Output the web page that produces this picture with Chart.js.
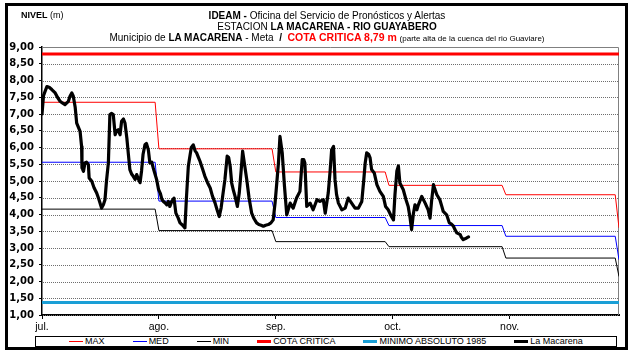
<!DOCTYPE html>
<html>
<head>
<meta charset="utf-8">
<script src="https://cdn.jsdelivr.net/npm/chart.js@4/dist/chart.umd.min.js"></script>
<style>
  html, body { margin: 0; padding: 0; background: #fff; }
  #wrap { position: relative; width: 630px; height: 350px; overflow: hidden;
          font-family: "Liberation Sans", Arial, sans-serif; color: #000; }
  #chart { position: absolute; left: 0; top: 0; }
  #frame { position: absolute; left: 5px; top: 3px; width: 623px; height: 347px;
           border: 3px solid #000; box-sizing: border-box; pointer-events: none; }
  .t { position: absolute; left: 0; width: 654px; text-align: center; white-space: nowrap;
       font-size: 10px; line-height: 11px; }
  #unit { position: absolute; left: 21px; top: 10px; font-size: 9px; line-height: 10px; }
  #legend { position: absolute; left: 35px; top: 336px; width: 582px; height: 11px;
            border: 1px solid #000; box-sizing: border-box; display: flex;
            justify-content: center; align-items: center; gap: 28px;
            font-size: 9px; line-height: 9px; background: #fff; }
  .item { display: flex; align-items: center; white-space: nowrap; }
  .swatch { display: inline-block; width: 14px; margin-right: 2px; }
</style>
</head>
<body>
<div id="wrap">
  <canvas id="chart" width="630" height="350"></canvas>
  <div id="unit"><b>NIVEL</b> (m)</div>
  <div class="t" style="top:10px"><b>IDEAM - </b>Oficina del Servicio de Pronósticos y Alertas</div>
  <div class="t" style="top:21px">ESTACION <b>LA MACARENA - RIO GUAYABERO</b></div>
  <div class="t" style="top:32px">Municipio de <b>LA MACARENA</b> - Meta &nbsp;<b>/</b> &nbsp;<b style="color:#ff0000;font-size:10.5px">COTA CRITICA 8,79 m</b> <span style="font-size:8px">(parte alta de la cuenca del rio Guaviare)</span></div>
  <div id="legend"></div>
  <div id="frame"></div>
</div>
<script>
// Month axis: days counted from 1 July; labels sit every 31 days.
const monthLabels = ['jul.', 'ago.', 'sep.', 'oct.', 'nov.'];
const monthTickDays = [0, 31, 62, 93, 124];
// First day of each month (jul .. dic) in the same day count.
const monthStartDays = [0, 31, 62, 92, 123, 153];

// Historical monthly levels (m), jul .. dic
const maxLevels = [7.35, 5.96, 5.27, 4.87, 4.59, 3.60];
const medLevels = [5.56, 4.40, 3.91, 3.67, 3.35, 2.65];
const minLevels = [4.16, 3.52, 3.19, 3.04, 2.70, 2.15];

// Reference levels (m)
const cotaCritica = 8.79;
const minimoAbsoluto1985 = 1.37;

// Observed level at La Macarena
const macarenaDays = [
  0, 0.4, 1.3, 1.9, 2.6, 3.5, 4.1, 4.8, 5.4, 6.1, 7.0, 7.4, 7.9, 8.3, 8.8, 9.2,
  10.1, 10.5, 10.6, 11.0, 11.4, 11.8, 12.3, 12.5, 13.2, 13.8, 14.5, 15.1, 15.8,
  16.3, 16.7, 17.1, 17.6, 18.0, 18.4, 18.9, 19.4, 19.8, 20.2, 20.7, 21.1, 21.6,
  22.0, 22.5, 22.9, 23.3, 23.8, 24.2, 24.7, 25.1, 25.6, 26.0, 26.4, 26.8, 27.3,
  27.7, 28.2, 28.6, 29.1, 29.5, 30.4, 30.9, 31.4, 31.8, 32.2, 32.6, 33.1, 33.5,
  33.9, 34.4, 35.0, 35.5, 36.1, 36.6, 37.3, 37.9, 38.3, 38.8, 39.3, 39.6, 40.1,
  40.6, 41.0, 41.5, 41.9, 42.6, 43.2, 43.9, 44.6, 45.2, 45.9, 46.4, 47.0, 47.5,
  47.9, 48.5, 49.1, 49.5, 49.9, 50.3, 50.8, 51.2, 51.8, 52.3, 52.8, 53.2, 53.7,
  54.3, 54.9, 55.6, 56.2, 56.9, 57.5, 58.1, 58.7, 59.3, 60.0, 60.7, 61.3, 61.8,
  62.3, 62.7, 63.1, 63.7, 64.3, 64.9, 65.3, 65.8, 66.6, 67.5, 68.4, 69.0, 69.4,
  69.7, 70.2, 71.1, 71.9, 72.9, 73.7, 74.6, 75.1, 75.9, 76.4, 76.8, 77.3, 77.7,
  78.1, 78.6, 79.5, 80.4, 81.2, 82.1, 83.0, 83.9, 84.8, 85.3, 85.7, 86.1, 86.6,
  87.0, 87.4, 88.1, 88.8, 89.6, 90.5, 91.1, 91.8, 92.6, 93.2, 93.6, 94.1, 94.5,
  94.9, 95.8, 96.5, 97.1, 97.6, 98.0, 98.5, 98.9, 99.4, 99.8, 100.7, 101.6,
  102.4, 102.9, 103.3, 103.8, 104.2, 104.7, 105.5, 106.0, 106.4, 107.3, 108.0,
  108.5, 109.1, 109.5, 110.0, 110.9, 111.2, 111.7, 112.6, 113.1
];
const macarenaLevels = [
  7.00, 7.55, 7.82, 7.80, 7.73, 7.63, 7.50, 7.38, 7.33, 7.28, 7.38, 7.52, 7.63, 7.53, 7.20, 6.73,
  6.48, 6.03, 5.39, 5.29, 5.54, 5.56, 5.49, 5.09, 4.99, 4.80, 4.64, 4.45, 4.19,
  4.30, 4.44, 5.00, 5.54, 6.98, 7.02, 6.98, 6.38, 6.50, 6.53, 6.38, 6.78, 6.85,
  6.73, 6.28, 5.80, 5.34, 5.20, 5.14, 5.05, 5.19, 5.05, 4.95, 5.30, 5.80, 6.08,
  6.12, 5.93, 5.54, 5.56, 5.39, 5.04, 4.75, 4.62, 4.45, 4.39, 4.35, 4.29, 4.39,
  4.24, 4.39, 4.49, 4.04, 3.90, 3.75, 3.68, 3.60, 4.50, 5.44, 5.80, 6.00, 6.08,
  5.90, 5.84, 5.70, 5.59, 5.35, 5.14, 4.95, 4.79, 4.55, 4.34, 4.15, 3.94, 4.20,
  4.54, 5.04, 5.74, 5.70, 5.44, 4.94, 4.70, 4.54, 4.24, 4.64, 5.30, 5.89, 5.50,
  5.04, 4.50, 4.04, 3.88, 3.75, 3.70, 3.68, 3.65, 3.68, 3.70, 3.75, 3.84, 4.34,
  5.00, 5.54, 6.33, 5.84, 4.84, 3.99, 4.15, 4.34, 4.19, 4.49, 4.69, 5.64, 5.64,
  5.54, 4.24, 4.34, 4.14, 4.44, 4.39, 4.44, 4.04, 4.64, 5.30, 5.93, 6.03, 5.04,
  4.60, 4.34, 4.14, 4.19, 4.49, 4.34, 4.19, 4.19, 4.39, 5.00, 5.54, 5.84, 5.80,
  5.69, 5.34, 5.24, 4.89, 4.69, 4.54, 4.24, 4.14, 3.95, 3.84, 4.60, 5.30, 5.45,
  4.94, 4.74, 4.45, 4.24, 3.90, 3.55, 4.04, 4.29, 4.14, 4.29, 4.54, 4.34,
  4.14, 3.89, 4.40, 4.89, 4.75, 4.59, 4.44, 4.25, 4.09, 3.99, 3.75,
  3.72, 3.65, 3.55, 3.45, 3.40, 3.32, 3.25, 3.30, 3.33
];

// Monthly values held flat through each month, stepping on the 1st.
function monthlySteps(levels) {
  const pts = [];
  for (let i = 0; i < monthStartDays.length - 1; i++) {
    pts.push({ x: monthStartDays[i], y: levels[i] });
    pts.push({ x: monthStartDays[i + 1] - 1, y: levels[i] });
  }
  const last = monthStartDays.length - 1;
  pts.push({ x: monthStartDays[last], y: levels[last] });
  return pts;
}
function flat(level) {
  return [{ x: monthStartDays[0], y: level }, { x: monthStartDays[monthStartDays.length - 1], y: level }];
}

const datasets = [
  { label: 'MAX', data: monthlySteps(maxLevels), borderColor: '#ff0000', borderWidth: 1, order: 3 },
  { label: 'MED', data: monthlySteps(medLevels), borderColor: '#0000ff', borderWidth: 1, order: 4 },
  { label: 'MIN', data: monthlySteps(minLevels), borderColor: '#000000', borderWidth: 1, order: 5 },
  { label: 'COTA CRITICA', data: flat(cotaCritica), borderColor: '#ff0000', borderWidth: 3, order: 2 },
  { label: 'MINIMO ABSOLUTO 1985', data: flat(minimoAbsoluto1985), borderColor: '#1a9fd6', borderWidth: 3, order: 1 },
  { label: 'La Macarena', data: macarenaDays.map((d, i) => ({ x: d, y: macarenaLevels[i] })),
    borderColor: '#000000', borderWidth: 3.2, order: 0, borderJoinStyle: 'round', borderCapStyle: 'round' }
];

// Plot frame: dotted horizontal guides at each tick, gray outline on top and right
const plotGuides = {
  id: 'plotGuides',
  beforeDatasetsDraw(chart) {
    const { ctx, chartArea: a, scales: { y } } = chart;
    ctx.save();
    ctx.strokeStyle = '#6e6e6e';
    ctx.lineWidth = 1;
    ctx.setLineDash([1, 1]);
    y.ticks.forEach((t) => {
      const py = Math.round(y.getPixelForValue(t.value)) + 0.5;
      ctx.beginPath();
      ctx.moveTo(a.left + 1, py);
      ctx.lineTo(a.right, py);
      ctx.stroke();
    });
    ctx.setLineDash([]);
    ctx.strokeStyle = '#808080';
    ctx.beginPath();
    ctx.moveTo(a.left, a.top + 0.5);
    ctx.lineTo(a.right - 0.5, a.top + 0.5);
    ctx.lineTo(a.right - 0.5, a.bottom);
    ctx.stroke();
    ctx.restore();
  }
};

const chart = new Chart(document.getElementById('chart'), {
  type: 'line',
  data: { datasets },
  plugins: [plotGuides],
  options: {
    responsive: false,
    animation: false,
    parsing: false,
    layout: { padding: { left: 0, right: 11, top: 47, bottom: 15 } },
    elements: { point: { radius: 0 }, line: { tension: 0 } },
    plugins: { legend: { display: false }, tooltip: { enabled: false } },
    scales: {
      x: {
        type: 'linear',
        min: monthStartDays[0],
        max: monthStartDays[monthStartDays.length - 1],
        afterBuildTicks: (s) => { s.ticks = monthTickDays.map((v) => ({ value: v })); },
        afterFit: (s) => { s.height = 20; },
        ticks: {
          autoSkip: false, maxRotation: 0, padding: 2, color: '#000',
          font: { family: '"Liberation Sans", Arial, sans-serif', size: 10.5 },
          callback: (v, i) => monthLabels[i]
        },
        grid: { drawOnChartArea: false, tickLength: 4, tickColor: '#000', color: '#000' },
        border: { color: '#000', width: 2 }
      },
      y: {
        min: 1, max: 9,
        afterFit: (s) => { s.width = 42; },
        ticks: {
          stepSize: 0.5, padding: 5, color: '#000',
          font: { family: '"DejaVu Sans", sans-serif', size: 10, weight: 'bold' },
          callback: (v) => v.toFixed(2).replace('.', ',')
        },
        grid: { drawOnChartArea: false, tickLength: 3, tickColor: '#000' },
        border: { color: '#000', width: 1.5 }
      }
    }
  }
});

// Legend built from the chart's own datasets
const legendEl = document.getElementById('legend');
chart.data.datasets.forEach((ds) => {
  const item = document.createElement('span');
  item.className = 'item';
  const sw = document.createElement('span');
  sw.className = 'swatch';
  sw.style.height = Math.max(1, Math.round(ds.borderWidth)) + 'px';
  sw.style.background = ds.borderColor;
  item.appendChild(sw);
  item.appendChild(document.createTextNode(ds.label));
  legendEl.appendChild(item);
});
</script>
</body>
</html>
